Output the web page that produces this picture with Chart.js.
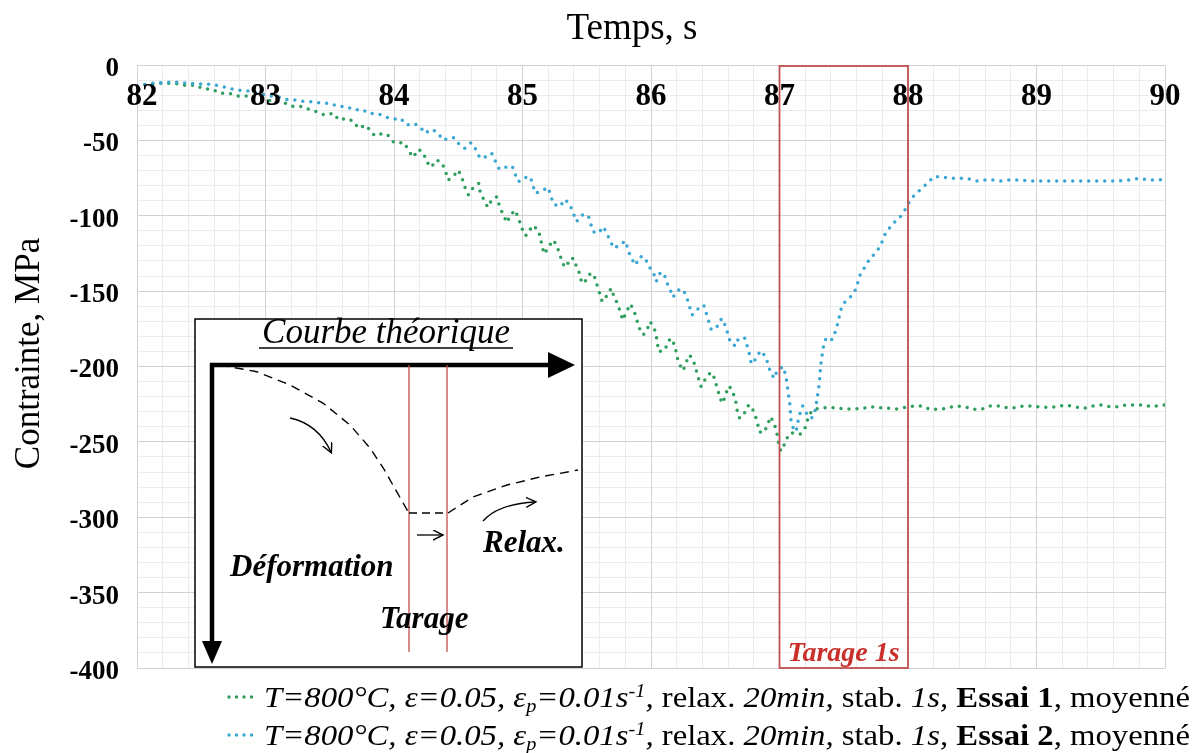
<!DOCTYPE html>
<html><head><meta charset="utf-8">
<script src="https://cdn.jsdelivr.net/npm/chart.js@4"></script>
<style>
html,body{margin:0;padding:0;background:#fff;}
#wrap{position:relative;width:1200px;height:753px;overflow:hidden;background:#fff;}
#c{position:absolute;left:0;top:0;}
#inset{position:absolute;left:0;top:0;pointer-events:none;}
.leg{position:absolute;left:226px;height:36px;display:flex;align-items:center;font-family:"Liberation Serif","Times New Roman",serif;font-size:30px;color:#000;white-space:nowrap;}
.leg svg{flex:none;margin-right:2px;}
.leg .t{display:inline-block;transform-origin:0 50%;}
.leg sub{font-size:62%;vertical-align:-0.25em;line-height:0;}
.leg sup{font-size:62%;vertical-align:0.55em;line-height:0;}
</style></head><body>
<div id="wrap">
<canvas id="c" width="1200" height="753"></canvas>
<svg id="inset" width="1200" height="753" viewBox="0 0 1200 753">
  <defs>
    <marker id="sa" markerWidth="12" markerHeight="12" refX="9" refY="5" orient="auto" markerUnits="userSpaceOnUse">
      <path d="M0,0 L10,5 L0,10" fill="none" stroke="#000" stroke-width="1.4"/>
    </marker>
  </defs>
  <rect x="195" y="319" width="387" height="348" fill="#fff" stroke="#000" stroke-width="1.5"/>
  <text x="386" y="343" text-anchor="middle" font-family="Liberation Serif" font-style="italic" font-size="35">Courbe théorique</text>
  <line x1="259" y1="348" x2="513" y2="348" stroke="#000" stroke-width="1.3"/>
  <line x1="210" y1="365" x2="552" y2="365" stroke="#000" stroke-width="4.5"/>
  <polygon points="548,352 575,365 548,378" fill="#000"/>
  <line x1="212" y1="363" x2="212" y2="644" stroke="#000" stroke-width="4.5"/>
  <polygon points="202,641 212,664 222,641" fill="#000"/>
  <line x1="409" y1="365" x2="409" y2="652" stroke="#c0504d" stroke-width="1.3"/>
  <line x1="447" y1="365" x2="447" y2="652" stroke="#c0504d" stroke-width="1.3"/>
  <polyline points="220,365 256.7,371.7 290,385 323.3,403.3 350,425 370,448 383.3,468 396.7,491.7 408.3,512" fill="none" stroke="#000" stroke-width="1.4" stroke-dasharray="9,6"/>
  <line x1="409" y1="513" x2="447" y2="513" stroke="#000" stroke-width="1.6" stroke-dasharray="8,5"/>
  <polyline points="448,513 473,497 507,485 540,477 578,470" fill="none" stroke="#000" stroke-width="1.4" stroke-dasharray="9,6"/>
  <path d="M290,418 Q318,424 331,452" fill="none" stroke="#000" stroke-width="1.3" marker-end="url(#sa)"/>
  <line x1="417" y1="535" x2="442" y2="535" stroke="#000" stroke-width="1.3" marker-end="url(#sa)"/>
  <path d="M483,521 Q498,504 535,502" fill="none" stroke="#000" stroke-width="1.3" marker-end="url(#sa)"/>
  <text x="230" y="576" font-family="Liberation Serif" font-style="italic" font-weight="bold" font-size="31">Déformation</text>
  <text x="380" y="628" font-family="Liberation Serif" font-style="italic" font-weight="bold" font-size="31">Tarage</text>
  <text x="483" y="552" font-family="Liberation Serif" font-style="italic" font-weight="bold" font-size="31">Relax.</text>
</svg>
<div class="leg" id="leg1" style="top:679px;">
  <svg width="36" height="10"><line x1="3" y1="5" x2="33" y2="5" stroke="#2f9e5f" stroke-width="3.4" stroke-linecap="round" stroke-dasharray="0 7.5"/></svg>
  <span class="t"><i>T=800°C, ε=0.05, ε<sub>p</sub>=0.01s<sup>-1</sup>,</i> relax. <i>20min,</i> stab. <i>1s,</i> <b>Essai 1</b>, moyenné</span>
</div>
<div class="leg" id="leg2" style="top:717px;">
  <svg width="36" height="10"><line x1="3" y1="5" x2="33" y2="5" stroke="#3aa6d2" stroke-width="3.4" stroke-linecap="round" stroke-dasharray="0 7.5"/></svg>
  <span class="t"><i>T=800°C, ε=0.05, ε<sub>p</sub>=0.01s<sup>-1</sup>,</i> relax. <i>20min,</i> stab. <i>1s,</i> <b>Essai 2</b>, moyenné</span>
</div>
</div>
<script>
// ---- data ----
const xTitle = 'Temps, s';
const yTitle = 'Contrainte, MPa';
const xTickValues = [82, 83, 84, 85, 86, 87, 88, 89, 90];
const xTickLabels = ['82', '83', '84', '85', '86', '87', '88', '89', '90'];
const yTickValues = [-400, -350, -300, -250, -200, -150, -100, -50, 0];
const yTickLabels = ['-400', '-350', '-300', '-250', '-200', '-150', '-100', '-50', '0'];
const tarageStart = 87;
const tarageEnd = 88;
const tarageLabel = 'Tarage 1s';

const timeEssai1 = [82.0, 82.04, 82.11, 82.19, 82.26, 82.33, 82.39, 82.45, 82.52, 82.58, 82.65, 82.72, 82.78, 82.85, 82.92, 82.98, 83.05, 83.11, 83.16, 83.22, 83.29, 83.35, 83.40, 83.46, 83.53, 83.57, 83.63, 83.69, 83.72, 83.78, 83.85, 83.92, 83.96, 84.0,
  84.04, 84.08, 84.11, 84.15, 84.19, 84.23, 84.25, 84.29, 84.33, 84.37, 84.40, 84.42, 84.46, 84.50, 84.53, 84.55, 84.58, 84.62, 84.66, 84.67, 84.70, 84.73, 84.76, 84.80, 84.82, 84.85, 84.88, 84.90, 84.94, 84.97, 84.99,
  85.02, 85.05, 85.07, 85.11, 85.14, 85.15, 85.17, 85.20, 85.24, 85.27, 85.29, 85.32, 85.34, 85.37, 85.40, 85.42, 85.45, 85.46, 85.50, 85.53, 85.56, 85.58, 85.60, 85.62, 85.66, 85.69, 85.71, 85.74, 85.76, 85.78, 85.81, 85.84, 85.87, 85.89, 85.91, 85.94, 85.97, 85.99,
  86.02, 86.04, 86.06, 86.11, 86.13, 86.16, 86.19, 86.20, 86.22, 86.25, 86.27, 86.30, 86.33, 86.35, 86.37, 86.39, 86.41, 86.45, 86.48, 86.50, 86.52, 86.54, 86.56, 86.58, 86.61, 86.64, 86.66, 86.67, 86.69, 86.73, 86.76, 86.78, 86.81, 86.83, 86.84, 86.88, 86.91, 86.93, 86.96, 86.98, 86.99,
  87.01, 87.04, 87.07, 87.09, 87.16, 87.20, 87.22, 87.25, 87.30, 87.37, 87.43, 87.50, 87.57, 87.64, 87.70, 87.77, 87.84, 87.91, 87.98,
  88.04, 88.11, 88.17, 88.24, 88.30, 88.37, 88.44, 88.50, 88.57, 88.64, 88.71, 88.77, 88.84, 88.90, 88.97,
  89.04, 89.11, 89.18, 89.23, 89.30, 89.37, 89.44, 89.50, 89.57, 89.64, 89.70, 89.77, 89.84, 89.90, 89.97, 90.0];
const stressEssai1 = [-14, -13.3, -12.5, -12, -12.2, -12.6, -13.9, -13.3, -16, -16, -18.8, -18.8, -20.6, -20.6, -21.2, -22.5, -24, -24.5, -25.4, -27.6, -27.6, -29.9, -31, -33.2, -32, -36.5, -35.4, -37.6, -42, -39.8, -47, -45.3, -47, -51.5,
  -51.5, -51.5, -56.4, -61.2, -55.9, -58.2, -63.7, -67.9, -63, -64.5, -70.1, -76.3, -74.1, -69.7, -75.2, -80.7, -86.2, -80.7, -78.5, -84, -89.6, -94.4, -89.6, -87.4, -93.5, -99.5, -104.6, -100.6, -96.2, -101.7, -107.3,
  -113.2, -111.7, -106.6, -108.3, -113.9, -119.9, -125.4, -120.9, -116.1, -120.5, -126, -132.7, -134.2, -128.3, -128.3, -133.8, -139.3, -144.8, -142.6, -137.8, -140.4, -145.9, -151.5, -157, -152.6, -148.1, -153.2, -158.5, -163.6, -169.2, -163.6, -158.5, -163.6, -169.2, -174.7, -179.1, -175.8, -170.3,
  -173.1, -179.1, -190.2, -189.1, -183.5, -181.3, -187.3, -193, -198.3, -202.8, -197.9, -192.4, -196.1, -201.9, -207.9, -213.4, -210.1, -205, -204.1, -210.1, -215.6, -221.8, -224.4, -218.2, -212.9, -217.8, -223.4, -228.9, -234.4, -230.6, -225.5, -226.2, -232.2, -237.7, -243.2, -243.9, -238.1, -233.3, -238.1, -244.3, -249.9,
  -256.1, -251.4, -245.4, -243.9, -245, -240.6, -235, -229.5, -227.7, -227.3, -227.3, -228.2, -228.2, -228, -226.7, -227.3, -227.7, -228.2, -227.1,
  -226.2, -226.2, -228.4, -228.4, -227.7, -226.2, -226.7, -228.4, -228.4, -226.2, -226.2, -227.3, -227.3, -226.2, -226.2,
  -227.1, -227.1, -226.2, -225.5, -226.7, -227.7, -226.2, -225.5, -226.7, -226.7, -225.5, -225.5, -225.5, -226.7, -225.5, -225.5];

const timeEssai2 = [82.0, 82.04, 82.11, 82.19, 82.26, 82.33, 82.39, 82.45, 82.52, 82.58, 82.65, 82.72, 82.78, 82.85, 82.92, 82.98, 83.05, 83.11, 83.16, 83.24, 83.31, 83.37, 83.44, 83.50, 83.57, 83.63, 83.69, 83.75, 83.81, 83.87, 83.93, 84.0,
  84.05, 84.10, 84.15, 84.20, 84.24, 84.29, 84.34, 84.38, 84.44, 84.47, 84.51, 84.55, 84.60, 84.64, 84.67, 84.72, 84.76, 84.79, 84.82, 84.88, 84.92, 84.94, 84.97,
  85.01, 85.06, 85.10, 85.15, 85.20, 85.24, 85.29, 85.33, 85.37, 85.40, 85.42, 85.46, 85.51, 85.55, 85.59, 85.63, 85.68, 85.71, 85.76, 85.80, 85.84, 85.88, 85.91, 85.95, 85.98,
  86.02, 86.04, 86.07, 86.10, 86.12, 86.15, 86.17, 86.21, 86.25, 86.28, 86.30, 86.32, 86.37, 86.41, 86.43, 86.45, 86.47, 86.52, 86.55, 86.58, 86.60, 86.62, 86.66, 86.68, 86.73, 86.75, 86.77, 86.78, 86.82, 86.85, 86.89, 86.91, 86.93, 86.96, 86.98,
  87.03, 87.05, 87.06, 87.07, 87.08, 87.085, 87.09, 87.11, 87.13, 87.14, 87.16, 87.18, 87.21, 87.25, 87.28, 87.29, 87.30, 87.31, 87.315, 87.32, 87.33, 87.34, 87.36, 87.39, 87.42, 87.44, 87.46, 87.47, 87.50, 87.55, 87.59, 87.61, 87.63, 87.67, 87.70, 87.75, 87.79, 87.81, 87.85, 87.89, 87.94, 87.98,
  88.01, 88.05, 88.10, 88.15, 88.20, 88.25, 88.33, 88.39, 88.46, 88.53, 88.59, 88.66, 88.73, 88.79, 88.87, 88.94,
  89.0, 89.1, 89.2, 89.3, 89.4, 89.5, 89.6, 89.7, 89.8, 89.87, 89.93, 90.0];
const stressEssai2 = [-14, -13.3, -12.2, -11.7, -11.3, -11.5, -12.2, -12.2, -12.8, -12.8, -13.9, -15.5, -16.6, -17.0, -18.3, -19.5, -20.6, -21.4, -22.8, -23.2, -24.3, -24.3, -25.4, -25.4, -27.6, -27.6, -29.9, -29.4, -32.1, -32.1, -34.3, -36,
  -35.4, -39.8, -38.7, -40.5, -45.3, -42.7, -44.7, -49.8, -48.2, -48.2, -53, -55.3, -51.5, -56.4, -61.9, -60.8, -58.6, -64.1, -69.2, -67.5, -67, -71.9, -77.4,
  -74.8, -74.1, -85.1, -83.4, -81.2, -92.2, -94, -89.1, -92.9, -99.5, -103.9, -99.5, -99.5, -110.6, -111.7, -107.3, -116.1, -121.6, -119.4, -116.6, -127.2, -132.7, -127.2, -127.2, -133.1,
  -138.2, -143.7, -138.2, -137.8, -143.7, -149.3, -154.1, -149.3, -148.8, -154.8, -160.3, -165.8, -161.4, -159.2, -164.7, -170.3, -175.8, -173.1, -168.1, -173.1, -179.1, -184.6, -186.4, -181.3, -181.3, -186.9, -193.0, -198.3, -194.6, -189.5, -193.0, -198.3, -204.1, -207.9, -202.8,
  -200.1, -206.7, -212.3, -218.9, -224.4, -230.6, -235.9, -241.7, -243.2, -237.7, -231.1, -226.2, -231.1, -234.4, -228.4, -222.7, -217.1, -211.2, -205.2, -199.5, -193.5, -187.5, -181.8, -183.5, -180.9, -175.1, -169.6, -163.8, -158.1, -154.1, -149.3, -144.2, -138.6, -133.3, -128.9, -124.3, -119.4, -113.9, -108.8, -104.6, -100.6, -95.7,
  -90.7, -86.2, -82.5, -78.5, -74.1, -74.1, -75.2, -75.2, -75.2, -77, -76.3, -76.3, -77, -76.3, -76.3, -77,
  -77, -77, -77, -77, -77, -77, -77, -76.5, -75.2, -76.3, -76.3, -76];

const labelEssai1 = 'T=800°C, ε=0.05, εp=0.01s-1, relax. 20min, stab. 1s, Essai 1, moyenné';
const labelEssai2 = 'T=800°C, ε=0.05, εp=0.01s-1, relax. 20min, stab. 1s, Essai 2, moyenné';
const colorEssai1 = '#2f9e5f';
const colorEssai2 = '#3aa6d2';

// ---- chart ----
const toPoints = (ts, vs) => ts.map((t, i) => ({x: t, y: vs[i]}));
const FONT = '"Liberation Serif", "Times New Roman", serif';
Chart.defaults.font.family = FONT;
Chart.defaults.color = '#000';

const overlay = {
  id: 'overlay',
  afterDatasetsDraw(chart) {
    const {ctx, chartArea, scales} = chart;
    const xs = scales.x;
    const x0 = xs.getPixelForValue(tarageStart);
    const x1 = xs.getPixelForValue(tarageEnd);
    ctx.save();
    // tarage box
    ctx.strokeStyle = '#c0504d';
    ctx.lineWidth = 1.8;
    ctx.strokeRect(x0, chartArea.top + 1, x1 - x0, chartArea.bottom - chartArea.top - 1);
    ctx.font = 'italic bold 28px ' + FONT;
    ctx.fillStyle = '#c9302c';
    ctx.textAlign = 'center';
    ctx.textBaseline = 'alphabetic';
    ctx.fillText(tarageLabel, (x0 + x1) / 2, chartArea.bottom - 7);
    // x tick labels, drawn inside the plot under the top edge
    ctx.fillStyle = '#000';
    ctx.font = 'bold 31px ' + FONT;
    ctx.textBaseline = 'middle';
    xTickValues.forEach((v, i) => {
      ctx.fillText(xTickLabels[i], xs.getPixelForValue(v) + (i === 0 ? 5 : 0), chartArea.top + 32);
    });
    // axis titles
    ctx.font = '37px ' + FONT;
    ctx.fillText(xTitle, (chartArea.left + chartArea.right) / 2 - 19, 29);
    ctx.translate(30, (chartArea.top + chartArea.bottom) / 2 - 13);
    ctx.rotate(-Math.PI / 2);
    ctx.font = '35px ' + FONT;
    ctx.fillText(yTitle, 0, 0);
    ctx.restore();
  }
};

const common = {fill: false, pointRadius: 0, pointHoverRadius: 0, tension: 0, borderWidth: 3.5,
  borderDash: [0, 8], borderCapStyle: 'round', borderJoinStyle: 'round', xAxisID: 'x', yAxisID: 'y'};

new Chart(document.getElementById('c'), {
  type: 'line',
  data: {datasets: [
    Object.assign({label: labelEssai1, data: toPoints(timeEssai1, stressEssai1), borderColor: colorEssai1, order: 2}, common),
    Object.assign({label: labelEssai2, data: toPoints(timeEssai2, stressEssai2), borderColor: colorEssai2, order: 1}, common)
  ]},
  options: {
    responsive: false, animation: false, devicePixelRatio: 1,
    layout: {padding: {left: 0, right: 35, top: 0, bottom: 85}},
    plugins: {legend: {display: false}, tooltip: {enabled: false}},
    scales: {
      x: {type: 'linear', position: 'top', min: 82, max: 90,
        afterBuildTicks: s => { s.ticks = xTickValues.map(v => ({value: v})); },
        afterFit: s => { s.height = 65; },
        grid: {color: '#d2d2d2', drawTicks: false, z: -1},
        border: {display: false},
        ticks: {display: false}
      },
      x2: {type: 'linear', position: 'top', min: 82, max: 90,
        ticks: {display: false, stepSize: 0.2},
        grid: {color: '#ececec', drawTicks: false, z: -2},
        border: {display: false},
        afterFit: s => { s.height = 0; }
      },
      y: {type: 'linear', position: 'left', min: -400, max: 0,
        afterBuildTicks: s => { s.ticks = yTickValues.map(v => ({value: v})); },
        afterFit: s => { s.width = 137; },
        grid: {color: '#d2d2d2', drawTicks: false, z: -1},
        border: {display: false},
        ticks: {callback: (v, i) => yTickLabels[i], font: {size: 27, weight: 'bold'}, color: '#000', padding: 18, labelOffset: 4}
      },
      y2: {type: 'linear', position: 'left', min: -400, max: 0,
        ticks: {display: false, stepSize: 10},
        grid: {color: '#ececec', drawTicks: false, z: -2},
        border: {display: false},
        afterFit: s => { s.width = 0; }
      }
    }
  },
  plugins: [overlay]
});

// fit legend text width to the reference span
document.querySelectorAll('.leg .t').forEach(el => {
  const w = el.getBoundingClientRect().width;
  el.style.transform = 'scaleX(' + (926 / w).toFixed(4) + ')';
});
</script>
</body></html>
